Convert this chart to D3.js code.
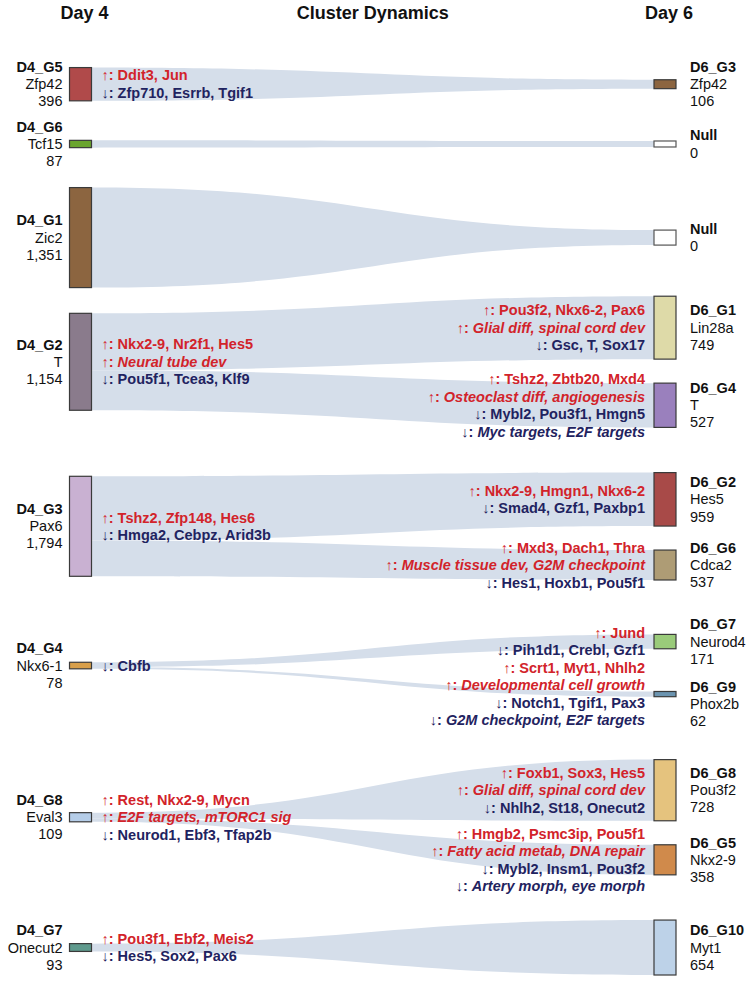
<!DOCTYPE html>
<html><head><meta charset="utf-8">
<script src="https://cdn.jsdelivr.net/npm/d3@7"></script>
<style>
body{margin:0;background:#fff}
text{font-family:"Liberation Sans",Arial,Helvetica,sans-serif;}
</style></head>
<body><svg id="chart" width="750" height="982"></svg>
<script>
// ---------------- data ----------------
const columns = ["Day 4", "Day 6"];
const chartTitle = "Cluster Dynamics";

const sourceNames   = ["D4_G5", "D4_G6", "D4_G1", "D4_G2", "D4_G3", "D4_G4", "D4_G8", "D4_G7"];
const sourceMarkers = ["Zfp42", "Tcf15", "Zic2", "T", "Pax6", "Nkx6-1", "Eval3", "Onecut2"];
const sourceCounts  = [396, 87, 1351, 1154, 1794, 78, 109, 93];

const targetNames   = ["D6_G3", "Null", "Null", "D6_G1", "D6_G4", "D6_G2", "D6_G6", "D6_G7", "D6_G9", "D6_G8", "D6_G5", "D6_G10"];
const targetMarkers = ["Zfp42", "", "", "Lin28a", "T", "Hes5", "Cdca2", "Neurod4", "Phox2b", "Pou3f2", "Nkx2-9", "Myt1"];
const targetCounts  = [106, 0, 0, 749, 527, 959, 537, 171, 62, 728, 358, 654];
const targetSource  = [0, 1, 2, 3, 3, 4, 4, 5, 5, 6, 6, 7];

// annotation lines: [direction, text, italic]
const sourceNotes = [
  [["↑", "Ddit3, Jun"], ["↓", "Zfp710, Esrrb, Tgif1"]],
  [],
  [],
  [["↑", "Nkx2-9, Nr2f1, Hes5"], ["↑", "Neural tube dev", 1], ["↓", "Pou5f1, Tcea3, Klf9"]],
  [["↑", "Tshz2, Zfp148, Hes6"], ["↓", "Hmga2, Cebpz, Arid3b"]],
  [["↓", "Cbfb"]],
  [["↑", "Rest, Nkx2-9, Mycn"], ["↑", "E2F targets, mTORC1 sig", 1], ["↓", "Neurod1, Ebf3, Tfap2b"]],
  [["↑", "Pou3f1, Ebf2, Meis2"], ["↓", "Hes5, Sox2, Pax6"]]
];
const targetNotes = [
  [], [], [],
  [["↑", "Pou3f2, Nkx6-2, Pax6"], ["↑", "Glial diff, spinal cord dev", 1], ["↓", "Gsc, T, Sox17"]],
  [["↑", "Tshz2, Zbtb20, Mxd4"], ["↑", "Osteoclast diff, angiogenesis", 1], ["↓", "Mybl2, Pou3f1, Hmgn5"], ["↓", "Myc targets, E2F targets", 1]],
  [["↑", "Nkx2-9, Hmgn1, Nkx6-2"], ["↓", "Smad4, Gzf1, Paxbp1"]],
  [["↑", "Mxd3, Dach1, Thra"], ["↑", "Muscle tissue dev, G2M checkpoint", 1], ["↓", "Hes1, Hoxb1, Pou5f1"]],
  [["↑", "Jund"], ["↓", "Pih1d1, Crebl, Gzf1"]],
  [["↑", "Scrt1, Myt1, Nhlh2"], ["↑", "Developmental cell growth", 1], ["↓", "Notch1, Tgif1, Pax3"], ["↓", "G2M checkpoint, E2F targets", 1]],
  [["↑", "Foxb1, Sox3, Hes5"], ["↑", "Glial diff, spinal cord dev", 1], ["↓", "Nhlh2, St18, Onecut2"]],
  [["↑", "Hmgb2, Psmc3ip, Pou5f1"], ["↑", "Fatty acid metab, DNA repair", 1], ["↓", "Mybl2, Insm1, Pou3f2"], ["↓", "Artery morph, eye morph", 1]],
  []
];

// ---------------- styles ----------------
const sourceColors = ["#b04a4a", "#6aa52e", "#8c6540", "#8a7b8c", "#c9b1d2", "#d89f4a", "#b5cde8", "#5f9a8d"];
const targetColors = ["#8c6540", "#ffffff", "#ffffff", "#dedaa8", "#9a80bd", "#a84a48", "#ae9c75", "#9acb7a", "#6b94b0", "#e5c37e", "#d08a4b", "#bdd2e8"];
const upColor = "#d2232a", downColor = "#1f2360", flowColor = "#d5deea";
const fontSize = 14.5, lineH = 17.5, labelLH = 17.2, labelSep = 28;

// ---------------- layout ----------------
const W = 750, H = 982;
const svg = d3.select("#chart");
const colX = d3.scalePoint().domain(columns).range([80.5, 665]);
const nodeW = 22;
const cellScale = d3.scaleLinear().domain([0, 1000]).range([0, 84]);
const maxNodeH = 100, minNodeH = 5, nullShare = 0.15, nodeGap = 24;
const topY = 61, bottomY = 975;
const fmt = d3.format(",");

function blockExt(c, n, lh) {
  return [c - (n - 1) / 2 * lh - 6, c + (n - 1) / 2 * lh + 7];
}

const rows = sourceNames.map((name, i) => {
  const tIdx = d3.range(targetNames.length).filter(j => targetSource[j] === i);
  const maxV = d3.max([sourceCounts[i], ...tIdx.map(j => targetCounts[j])]);
  const k = Math.min(1, maxNodeH / cellScale(maxV));
  const hL = Math.max(minNodeH, cellScale(sourceCounts[i]) * k);
  const targets = tIdx.map(j => ({
    j,
    h: targetCounts[j] > 0 ? Math.max(minNodeH, cellScale(targetCounts[j]) * k) : Math.max(6, hL * nullShare),
    nNotes: targetNotes[j].length,
    nLab: targetMarkers[j] ? 3 : 2
  }));
  targets.forEach((t, m) => {
    if (m === 0) { t.c = 0; return; }
    const p = targets[m - 1];
    t.c = p.c + Math.max(p.h / 2 + nodeGap + t.h / 2, (p.nNotes + t.nNotes) / 2 * lineH);
  });
  const span0 = targets[0].c - targets[0].h / 2;
  const span1 = targets[targets.length - 1].c + targets[targets.length - 1].h / 2;
  const off = (span0 + span1) / 2;
  targets.forEach(t => t.c -= off);
  // label block centres, pushed down when two label blocks would crowd
  targets.forEach((t, m) => {
    t.lc = t.c;
    if (m > 0) {
      const p = targets[m - 1];
      const pLast = p.lc + (p.nLab - 1) / 2 * labelLH;
      const first = t.lc - (t.nLab - 1) / 2 * labelLH;
      if (first < pLast + labelSep) t.lc += pLast + labelSep - first;
    }
  });
  const lab = blockExt(0, 3, labelLH);
  const L = [Math.min(-hL / 2, lab[0]), Math.max(hL / 2, lab[1])];
  let R = [Infinity, -Infinity];
  targets.forEach(t => {
    const e = [[t.c - t.h / 2, t.c + t.h / 2], blockExt(t.lc, t.nLab, labelLH)];
    if (t.nNotes) e.push(blockExt(t.c, t.nNotes, lineH));
    e.forEach(([a, b]) => { R[0] = Math.min(R[0], a); R[1] = Math.max(R[1], b); });
  });
  return { i, hL, targets, L, R };
});

// column-wise packing, then stretched to fill the available height
const dists = d3.range(rows.length - 1).map(r =>
  Math.max(rows[r].L[1] - rows[r + 1].L[0], rows[r].R[1] - rows[r + 1].R[0]));
const firstC = topY - Math.min(rows[0].L[0], rows[0].R[0]);
const last = rows[rows.length - 1];
const lastC = bottomY - Math.max(last.L[1], last.R[1]);
const stretch = (lastC - firstC) / d3.sum(dists);
let cy = firstC;
rows.forEach((row, r) => {
  row.cy = cy;
  if (r < dists.length) cy += dists[r] * stretch;
});

// ---------------- drawing ----------------
const xL = colX("Day 4"), xR = colX("Day 6");
const gFlow = svg.append("g"), gNode = svg.append("g"), gText = svg.append("g");

function bandPath(x0, s0, s1, x1, t0, t1) {
  const xm = (x0 + x1) / 2;
  return `M${x0},${s0}C${xm},${s0} ${xm},${t0} ${x1},${t0}L${x1},${t1}C${xm},${t1} ${xm},${s1} ${x0},${s1}Z`;
}

function writeNotes(notes, x, c, anchor) {
  notes.forEach((nt, k) => {
    const [dir, txt, it] = nt;
    const t = gText.append("text")
      .attr("x", x).attr("y", c + (k - (notes.length - 1) / 2) * lineH + 5)
      .attr("text-anchor", anchor).attr("font-size", fontSize).attr("font-weight", "bold")
      .attr("fill", dir === "↑" ? upColor : downColor);
    t.append("tspan").text(dir + ": ");
    t.append("tspan").attr("font-style", it ? "italic" : "normal").text(txt);
  });
}

function writeLabel(lines, x, c, anchor) {
  lines.forEach((ln, k) => {
    gText.append("text")
      .attr("x", x).attr("y", c + (k - (lines.length - 1) / 2) * labelLH + 5)
      .attr("text-anchor", anchor).attr("font-size", fontSize)
      .attr("font-weight", k === 0 ? "bold" : "normal")
      .attr("fill", "#111").text(ln);
  });
}

rows.forEach(row => {
  const i = row.i;
  const sTop = row.cy - row.hL / 2;
  const total = d3.sum(row.targets, t => targetCounts[t.j]) || 1;
  let acc = sTop;
  row.targets.forEach(t => {
    const share = row.targets.length > 1 ? targetCounts[t.j] / total : 1;
    const s0 = acc, s1 = acc + row.hL * share;
    acc = s1;
    const tc = row.cy + t.c;
    gFlow.append("path")
      .attr("d", bandPath(xL + nodeW / 2, s0, s1, xR - nodeW / 2, tc - t.h / 2, tc + t.h / 2))
      .attr("fill", flowColor);
    gNode.append("rect")
      .attr("x", xR - nodeW / 2).attr("y", tc - t.h / 2)
      .attr("width", nodeW).attr("height", t.h)
      .attr("fill", targetColors[t.j])
      .attr("stroke", targetCounts[t.j] > 0 ? "#3a3a3a" : "#555").attr("stroke-width", 1.2);
    const lab = targetMarkers[t.j]
      ? [targetNames[t.j], targetMarkers[t.j], fmt(targetCounts[t.j])]
      : [targetNames[t.j], fmt(targetCounts[t.j])];
    writeLabel(lab, xR + 25, row.cy + t.lc, "start");
    writeNotes(targetNotes[t.j], xR - 20, tc, "end");
  });
  gNode.append("rect")
    .attr("x", xL - nodeW / 2).attr("y", sTop)
    .attr("width", nodeW).attr("height", row.hL)
    .attr("fill", sourceColors[i]).attr("stroke", "#3a3a3a").attr("stroke-width", 1.2);
  writeLabel([sourceNames[i], sourceMarkers[i], fmt(sourceCounts[i])], xL - 18, row.cy, "end");
  writeNotes(sourceNotes[i], xL + 21, row.cy, "start");
});

// titles
const gTitle = svg.append("g");
columns.forEach(c => gTitle.append("text").attr("x", colX(c) + 4).attr("y", 19)
  .attr("text-anchor", "middle").attr("font-size", 18).attr("font-weight", "bold").attr("fill", "#111").text(c));
gTitle.append("text").attr("x", (xL + xR) / 2).attr("y", 19)
  .attr("text-anchor", "middle").attr("font-size", 18).attr("font-weight", "bold").attr("fill", "#111").text(chartTitle);
</script>
</body></html>
